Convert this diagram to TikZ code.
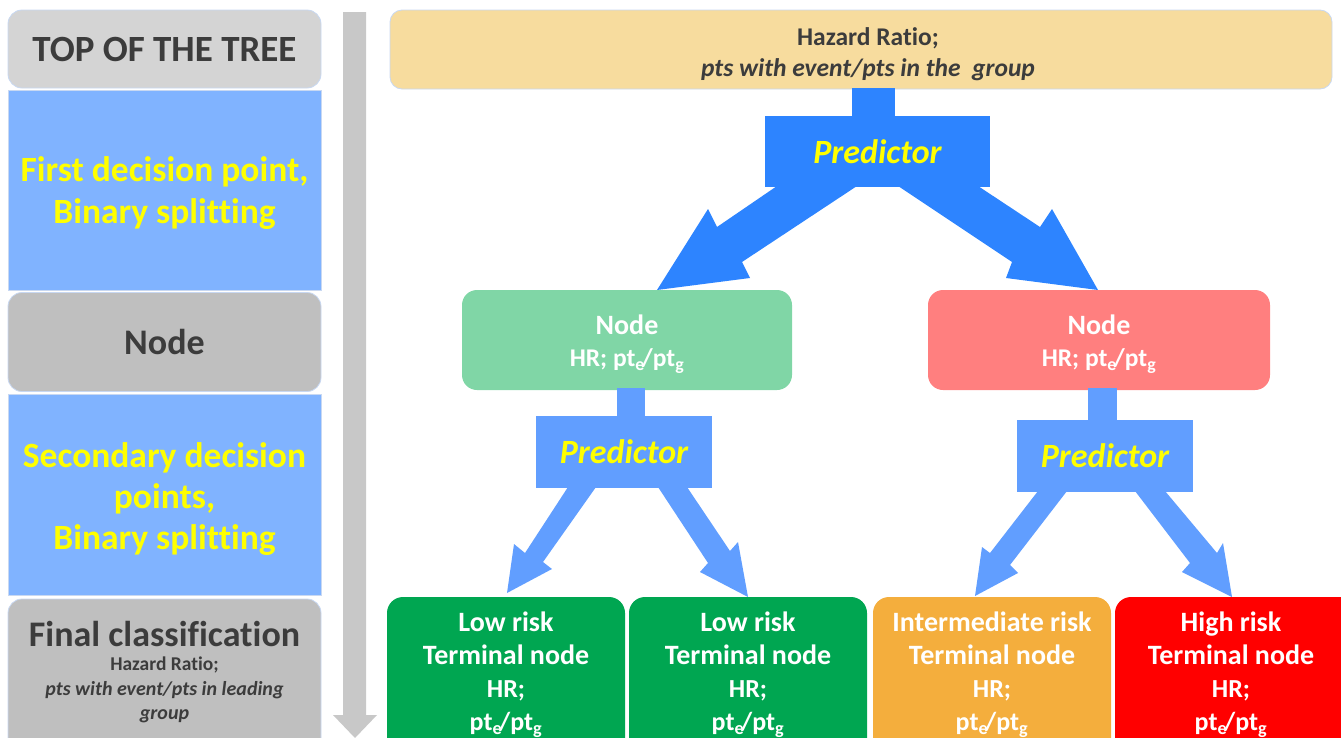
\documentclass[tikz,border=0pt]{standalone}
\usepackage{fontspec}
\setmainfont{Carlito}[Ligatures=NoCommon]
\definecolor{lgrayA}{HTML}{D4D4D4}
\definecolor{lgrayB}{HTML}{BFBFBF}
\definecolor{lblue}{HTML}{80B3FF}
\definecolor{txtyel}{HTML}{FFFF00}
\definecolor{txtdark}{HTML}{3C3C3C}
\definecolor{topfill}{HTML}{F7DC9E}
\definecolor{darrow}{HTML}{2D84FF}
\definecolor{larrow}{HTML}{619EFF}
\definecolor{nodegreen}{HTML}{80D6A6}
\definecolor{nodered}{HTML}{FF7F7F}
\definecolor{termgreen}{HTML}{00A651}
\definecolor{termorange}{HTML}{F4AE3D}
\definecolor{termred}{HTML}{FF0000}
\definecolor{edgeblue}{HTML}{C8D8F2}
\definecolor{bararrow}{HTML}{C8C8C8}
\newcommand{\myfs}[2]{\fontsize{#1}{#2}\selectfont}
\newcommand{\ptfrac}{pt\textsubscript{e}\kern-0.12em/pt\textsubscript{g}}
\begin{document}
\begin{tikzpicture}[x=1pt,y=-1pt,
  box/.style={inner sep=0pt, outer sep=0pt, align=center},
  leftround/.style={box, rounded corners=14pt, draw=edgeblue, line width=0.8pt},
  leftsq/.style={box, draw=edgeblue, line width=0.8pt, fill=lblue, text=txtyel, font=\bfseries\myfs{35.5}{41.5}},
  midnode/.style={box, rounded corners=15pt, text=white, font=\bfseries\myfs{28}{32}},
  termbox/.style={box, rounded corners=16pt},
  termtext/.style={box, text=white, font=\bfseries\myfs{28}{33}},
  predbox/.style={box, text=txtyel, font=\bfseries\itshape\myfs{34}{40}}
]
\useasboundingbox (0,0) rectangle (1341,737);
\clip (0,0) rectangle (1341,737);

% ---------- left column ----------
\node[leftround, fill=lgrayA, minimum width=313pt, minimum height=78pt, text=txtdark, font=\bfseries\myfs{37}{40}] (ltop) at (164.5,49) {TOP OF THE TREE};
\node[leftsq, minimum width=313pt, minimum height=200pt] (lfirst) at (164.5,190) {};
\node[box, text=txtyel, font=\bfseries\myfs{35.5}{42}] (lfirstt) at (164.5,193) {First decision point,\\Binary splitting};
\node[leftround, fill=lgrayB, minimum width=313pt, minimum height=99pt, text=txtdark, font=\bfseries\myfs{36}{40}] (lnode) at (164.5,342) {Node};
\node[leftsq, minimum width=313pt, minimum height=201pt] (lsec) at (164.5,494.5) {};
\node[box, text=txtyel, font=\bfseries\myfs{35.5}{41}] (lsect) at (164.5,499) {Secondary decision\\points,\\Binary splitting};
\node[leftround, fill=lgrayB, minimum width=313pt, minimum height=180pt] (lfinal) at (164.5,689) {};
\node[box, text=txtdark, font=\bfseries\myfs{36}{40}] (lfinalt) at (164.5,634) {Final classification};
\node[box, text=txtdark, font=\bfseries\myfs{19.5}{23}] (lfinalh) at (164.5,665) {Hazard Ratio;};
\node[box, text=txtdark, font=\bfseries\itshape\myfs{20}{23.5}] (lfinalp) at (164.5,702) {pts with event/pts in leading\\group};

% ---------- gray timeline arrow ----------
\fill[bararrow] (343,12) -- (366,12) -- (366,715) -- (377,715) -- (355,738) -- (333,715) -- (343,715) -- cycle;

% ---------- top box ----------
\node[box, rounded corners=12pt, fill=topfill, draw=edgeblue, line width=0.8pt, minimum width=942pt, minimum height=79pt] (top) at (861,49.5) {};
\node[box, text=txtdark, font=\bfseries\myfs{25.5}{31}] (topt) at (868,54) {Hazard Ratio;\\\itshape pts with event/pts in the\ \ group};

% ---------- first predictor ----------
\node[box, fill=darrow, minimum width=225pt, minimum height=71pt, text=txtyel, font=\bfseries\itshape\myfs{34}{40}] (p1) at (877.5,151.5) {Predictor};
\fill[darrow] (852,88) rectangle (895,117);
\fill[darrow] (777,186) -- (717,227) -- (708,209) -- (657,290) -- (750,278) -- (742,262) -- (857,186) -- cycle;
\fill[darrow] (898,186) -- (1012,262) -- (1006,278) -- (1098,290) -- (1052,209) -- (1040,227) -- (978,186) -- cycle;

% ---------- mid nodes ----------
\node[midnode, fill=nodegreen, minimum width=330pt, minimum height=100pt] (ng) at (627,340) {};
\node[box, text=white, font=\bfseries\myfs{28}{32}] (ngt) at (627,344) {Node\\\myfs{25.5}{32}HR; \ptfrac};
\node[midnode, fill=nodered, minimum width=342pt, minimum height=100pt] (nr) at (1099,340) {};
\node[box, text=white, font=\bfseries\myfs{28}{32}] (nrt) at (1099,344) {Node\\\myfs{25.5}{32}HR; \ptfrac};

% ---------- second-level predictors ----------
\fill[larrow] (617,388) rectangle (645,417);
\node[box, fill=larrow, minimum width=176pt, minimum height=72pt, text=txtyel, font=\bfseries\itshape\myfs{34}{40}] (p2) at (624,452) {Predictor};
\fill[larrow] (568,487) -- (525,553) -- (514,544) -- (507,593) -- (552,569) -- (543,562) -- (596,487) -- cycle;
\fill[larrow] (658,487) -- (708,563) -- (700,572) -- (748,597) -- (738,542) -- (730,551) -- (687,487) -- cycle;

\fill[larrow] (1088,388) rectangle (1117,421);
\node[box, fill=larrow, minimum width=176pt, minimum height=72pt, text=txtyel, font=\bfseries\itshape\myfs{34}{40}] (p3) at (1105,456) {Predictor};
\fill[larrow] (1038,491) -- (990,553) -- (982,547) -- (975,596) -- (1018,573) -- (1010,565) -- (1067,491) -- cycle;
\fill[larrow] (1135,491) -- (1190,563) -- (1182,572) -- (1232,597) -- (1223,543) -- (1217,553) -- (1165,491) -- cycle;

% ---------- terminal nodes ----------
\node[termbox, fill=termgreen, minimum width=238pt, minimum height=170pt] (t1) at (506,682) {};
\node[termbox, fill=termgreen, minimum width=238pt, minimum height=170pt] (t2) at (748,682) {};
\node[termbox, fill=termorange, minimum width=238pt, minimum height=170pt] (t3) at (992,682) {};
\node[termbox, fill=termred, minimum width=240pt, minimum height=170pt] (t4) at (1235,682) {};

\node[termtext] (t1t) at (506,674.5) {Low risk\\Terminal node\\\myfs{26}{33}HR;\\\myfs{26}{33}\ptfrac};
\node[termtext] (t2t) at (748,674.5) {Low risk\\Terminal node\\\myfs{26}{33}HR;\\\myfs{26}{33}\ptfrac};
\node[termtext] (t3t) at (992,674.5) {Intermediate risk\\Terminal node\\\myfs{26}{33}HR;\\\myfs{26}{33}\ptfrac};
\node[termtext] (t4t) at (1231,674.5) {High risk\\Terminal node\\\myfs{26}{33}HR;\\\myfs{26}{33}\ptfrac};
\end{tikzpicture}
\end{document}
